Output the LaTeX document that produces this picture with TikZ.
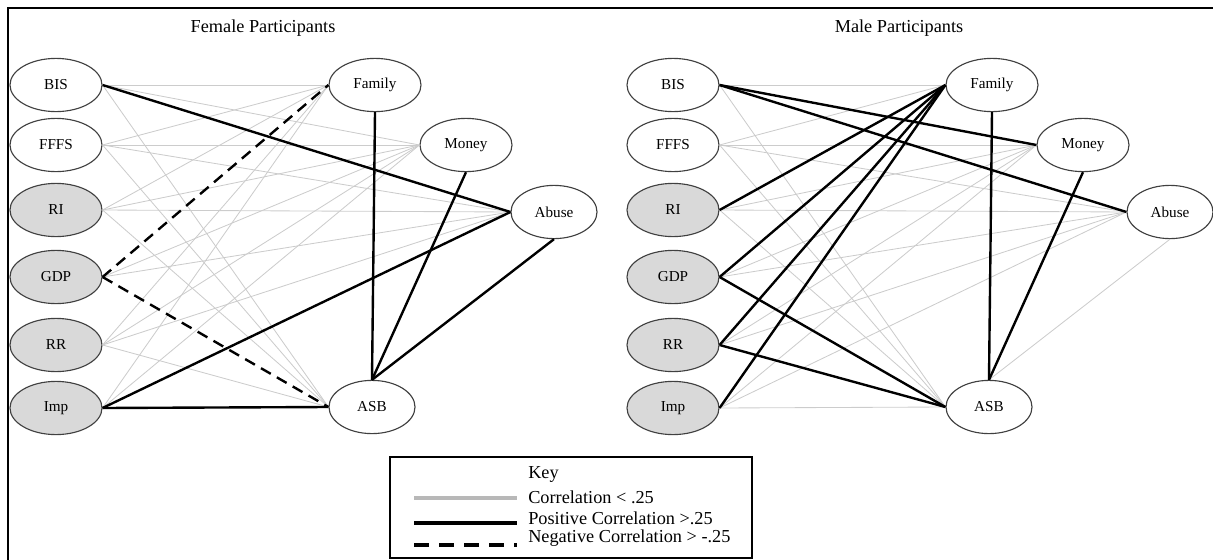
\documentclass[tikz,border=0pt]{standalone}
\usepackage{fontspec}
\setmainfont{Liberation Serif}
\usetikzlibrary{shapes.geometric}

\tikzset{
  var/.style={ellipse, draw=black!75, line width=0.8pt, fill=white, minimum width=2.3cm, minimum height=1.33cm, inner sep=0pt, font=\fontsize{10.8}{13}\selectfont},
  vargrey/.style={var, fill=black!15},
  weakline/.style={black!20, line width=0.6pt},
  posline/.style={black, line width=1.7pt},
  negline/.style={black, line width=1.7pt, dash pattern=on 8pt off 5pt},
  lbl/.style={font=\fontsize{13}{15}\selectfont, inner sep=0pt}
}

\begin{document}
\begin{tikzpicture}[x=0.025cm, y=-0.025cm]
		\useasboundingbox (0,0) rectangle (1213,560);
		\draw[line width=2pt] (8,560) -- (8,8) -- (1213,8);
		
		% female participants
		\draw (263,28) node[lbl] (fTitle) {Female Participants};
		\draw (56,85) node[var] (fBIS) {BIS};
		\draw (56,145) node[var] (fFFFS) {FFFS};
		\draw (56,210) node[vargrey] (fRI) {RI};
		\draw (56,277) node[vargrey] (fGDP) {GDP};
		\draw (56,345) node[vargrey] (fRR) {RR};
		\draw (56,408) node[vargrey] (fImp) {Imp};
		\draw (375,85) node[var] (fFam) {Family};
		\draw (466,145) node[var] (fMon) {Money};
		\draw (554,212) node[var, minimum width=2.15cm] (fAbu) {Abuse};
		\draw (372,407) node[var, minimum width=2.15cm] (fASB) {ASB};
		
		\foreach \a/\b in {BIS/Fam, BIS/Mon, BIS/ASB, FFFS/Fam, FFFS/Mon, FFFS/Abu, FFFS/ASB, RI/Fam, RI/Mon, RI/Abu, RI/ASB, GDP/Mon, GDP/Abu, RR/Fam, RR/Mon, RR/Abu, RR/ASB, Imp/Fam, Imp/Mon}
			\draw[weakline] (f\a.east) -- (f\b.west);
		
		\draw[posline] (fBIS.east) -- (fAbu.west);
		\draw[posline] (fImp.east) -- (fAbu.west);
		\draw[posline] (fImp.east) -- (fASB.west);
		\draw[posline] (fFam.south) -- (fASB.north);
		\draw[posline] (fMon.south) -- (fASB.north);
		\draw[posline] (fAbu.south) -- (fASB.north);
		\draw[negline] (fGDP.east) -- (fFam.west);
		\draw[negline] (fGDP.east) -- (fASB.west);
		
		% male participants
		\draw (899,28) node[lbl] (mTitle) {Male Participants};
		\draw (673,85) node[var] (mBIS) {BIS};
		\draw (673,145) node[var] (mFFFS) {FFFS};
		\draw (673,210) node[vargrey] (mRI) {RI};
		\draw (673,277) node[vargrey] (mGDP) {GDP};
		\draw (673,345) node[vargrey] (mRR) {RR};
		\draw (673,408) node[vargrey] (mImp) {Imp};
		\draw (992,85) node[var] (mFam) {Family};
		\draw (1083,145) node[var] (mMon) {Money};
		\draw (1170,212) node[var, minimum width=2.15cm] (mAbu) {Abuse};
		\draw (989,407) node[var, minimum width=2.15cm] (mASB) {ASB};
		
		\foreach \a/\b in {BIS/Fam, BIS/ASB, FFFS/Fam, FFFS/Mon, FFFS/Abu, FFFS/ASB, RI/Mon, RI/Abu, RI/ASB, GDP/Mon, GDP/Abu, RR/Mon, RR/Abu, Imp/Mon, Imp/Abu, Imp/ASB}
			\draw[weakline] (m\a.east) -- (m\b.west);
		\draw[weakline] (mAbu.south) -- (mASB.north);
		
		\draw[posline] (mBIS.east) -- (mMon.west);
		\draw[posline] (mBIS.east) -- (mAbu.west);
		\draw[posline] (mRI.east) -- (mFam.west);
		\draw[posline] (mGDP.east) -- (mFam.west);
		\draw[posline] (mRR.east) -- (mFam.west);
		\draw[posline] (mImp.east) -- (mFam.west);
		\draw[posline] (mGDP.east) -- (mASB.west);
		\draw[posline] (mRR.east) -- (mASB.west);
		\draw[posline] (mFam.south) -- (mASB.north);
		\draw[posline] (mMon.south) -- (mASB.north);
		
		% key
		\draw[line width=0.8pt] (390,457) rectangle (752,558);
		\draw (528,474) node[lbl, anchor=west] (kKey) {Key};
		\draw (528,497) node[lbl, anchor=west] (kLow) {Correlation < .25};
		\draw (528,518) node[lbl, anchor=west] (kPos) {Positive Correlation >.25};
		\draw (528,538) node[lbl, anchor=west] (kNeg) {Negative Correlation > -.25};
		\draw[black!28, line width=2.3pt] ([shift={(-114,1)}]kLow.west) -- ++(103,0);
		\draw[posline, line width=2.3pt] ([shift={(-114,5)}]kPos.west) -- ++(103,0);
		\draw[negline, line width=2.3pt, dash pattern=on 10.7pt off 7.1pt] ([shift={(-114,7)}]kNeg.west) -- ++(103,0);
\end{tikzpicture}
\end{document}
